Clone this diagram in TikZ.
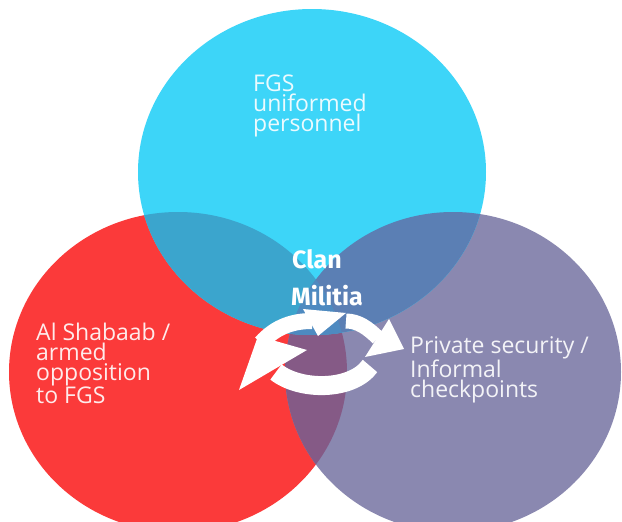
\documentclass[tikz,border=0pt]{standalone}
\usepackage{fontspec}
\setmainfont{Open Sans}
\newfontfamily\clanfont{Fira Sans}
\usetikzlibrary{arrows.meta}
\definecolor{cC}{HTML}{3DD5F8}
\definecolor{cR}{HTML}{FB3A3A}
\definecolor{cP}{HTML}{8A88B0}
\definecolor{cCR}{HTML}{3BA5CD}
\definecolor{cCP}{HTML}{5B7FB4}
\definecolor{cRP}{HTML}{855A86}
\definecolor{cCRP}{HTML}{4E8AC0}
\tikzset{
  lbl/.style={text=white, opacity=0.9, align=left, anchor=north west, inner sep=0pt,
    font=\fontsize{23}{20}\selectfont},
  clan/.style={text=white, inner sep=0pt, font=\clanfont\bfseries\fontsize{25}{39}\selectfont},
  cyc/.style={white, line width=16pt},
  cychead/.style={fill=white}
}
\begin{document}
\begin{tikzpicture}[x=1pt,y=-1pt]
\useasboundingbox (0,0) rectangle (622,522);
\fill[white] (0,0) rectangle (622,522);
\def\R{(178,372) ellipse [x radius=169pt, y radius=160pt]}
\def\P{(453,372) ellipse [x radius=168pt, y radius=160pt]}
\def\C{(312,172) ellipse [x radius=174pt, y radius=163pt]}
\begin{scope}
\clip (0,0) rectangle (622,522);
\fill[cR] \R;
\fill[cP] \P;
\begin{scope}\clip \R; \fill[cRP] \P;\end{scope}
\fill[cC] \C;
\begin{scope}\clip \C; \fill[cCR] \R; \fill[cCP] \P; \clip \R; \fill[cCRP] \P;\end{scope}
\end{scope}
% labels
\node[lbl] (fgs) at (253,75) {FGS\\uniformed\\personnel};
\node[lbl] (alsh) at (36,323) {Al Shabaab /\\armed\\opposition\\to FGS};
\node[lbl] (priv) at (410,336) {Private security /\\Informal\\checkpoints};
\node[clan] (clan) at (317,259) {Clan};
\node[clan] (mil) at (327,296) {Militia};
% cycle arrows
\coordinate (t1) at (261,343);
\coordinate (t2) at (312,321);
\coordinate (r1) at (346,321);
\coordinate (r2) at (378,338);
\coordinate (b1) at (370,366);
\coordinate (b2) at (276,372);
\draw[cyc,line width=16pt] (t1) .. controls (276,326) and (294,321) .. (t2);
\fill[cychead] (303,309) -- (346,313) -- (318,336) -- cycle;
\draw[cyc,line width=15pt] (r1) .. controls (358,321) and (368,328) .. (r2);
\fill[cychead] (389,319) -- (404,349) -- (365,357) -- cycle;
\draw[cyc,line width=19pt] (b1) .. controls (352,391) and (300,391) .. (b2);
\fill[cychead] (239,390) -- (258,336) -- (307,350) -- cycle;
\end{tikzpicture}
\end{document}
